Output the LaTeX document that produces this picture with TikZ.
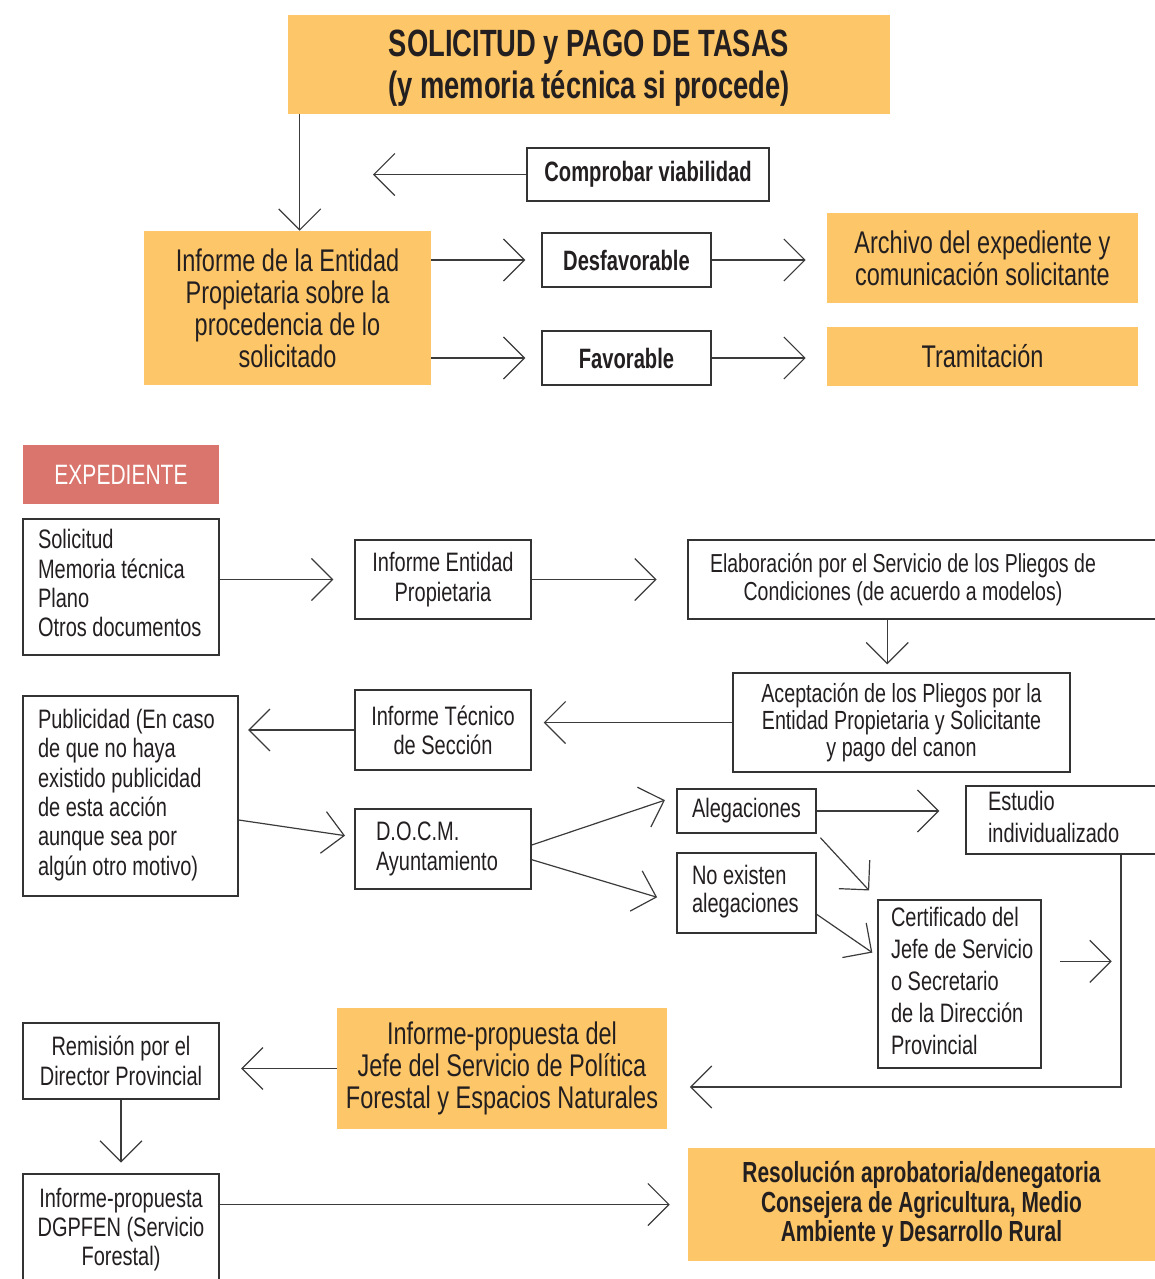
\documentclass[tikz,border=0pt]{standalone}
\usepackage{fontspec}
\setmainfont{Liberation Sans}[FakeStretch=0.75,BoldFeatures={FakeStretch=0.72}]
\usetikzlibrary{arrows.meta}
\hyphenpenalty=10000
\exhyphenpenalty=10000
\newcommand{\leftlines}[2]{\makebox[#1][l]{\begin{tabular}{@{}l@{}}#2\end{tabular}}}

\begin{document}
\begin{tikzpicture}[x=0.75pt,y=0.75pt,yscale=-1,xscale=1,
	box/.style={draw={rgb, 255:red, 51; green, 51; blue, 51 }, line width=1.1pt, inner sep=0pt, align=center, text={rgb, 255:red, 35; green, 31; blue, 32 }, font=\fontsize{20}{22}\selectfont},
	gold/.style={fill={rgb, 255:red, 253; green, 198; blue, 104 }, inner sep=0pt, align=center, text={rgb, 255:red, 35; green, 31; blue, 32 }, font=\fontsize{23.5}{24}\selectfont},
	txt/.style={inner sep=0pt, align=center, text={rgb, 255:red, 35; green, 31; blue, 32 }, font=\fontsize{19.5}{21}\selectfont},
	arr/.style={draw={rgb, 255:red, 59; green, 59; blue, 59 }, line width=0.9pt, -{Straight Barb[length=15.75pt,width=31.5pt]}}]
	\useasboundingbox (0,0) rectangle (1155,1279);
	
	%Shape: Rectangle
	\node[gold, minimum width=451.5pt, minimum height=74.25pt, text depth=0pt, font=\bfseries\fontsize{28.5}{31.5}\selectfont] (sol) at (589,64.5) {SOLICITUD y PAGO DE TASAS\\(y memoria técnica si procede)};
	\node[box, minimum width=181.5pt, minimum height=39.75pt, font=\bfseries\fontsize{21}{24}\selectfont] (comp) at (648,174.5) {Comprobar viabilidad};
	\node[gold, minimum width=215.25pt, minimum height=115.5pt] (infent) at (287.5,308) {Informe de la Entidad\\Propietaria sobre la\\procedencia de lo\\solicitado};
	\node[box, minimum width=126.75pt, minimum height=40.5pt, font=\bfseries\fontsize{21}{24}\selectfont] (desf) at (626.5,260) {Desfavorable};
	\node[box, minimum width=126.75pt, minimum height=40.5pt, font=\bfseries\fontsize{21}{24}\selectfont] (fav) at (626.5,358) {Favorable};
	\node[gold, minimum width=233.25pt, minimum height=67.5pt] (arch) at (982.5,258) {Archivo del expediente y\\comunicación solicitante};
	\node[gold, minimum width=233.25pt, minimum height=44.25pt] (tram) at (982.5,356.5) {Tramitación};
	
	%Shape: Rectangle
	\node[gold, fill={rgb, 255:red, 217; green, 117; blue, 108 }, text=white, minimum width=147pt, minimum height=44.25pt, font=\fontsize{21}{24}\selectfont] (exped) at (121,474.5) {EXPEDIENTE};
	\node[box, minimum width=147pt, minimum height=102pt, inner xsep=11.25pt] (docs) at (121,587) {\leftlines{124.5pt}{Solicitud\\Memoria técnica\\Plano\\Otros documentos}};
	\node[box, minimum width=132pt, minimum height=59.25pt] (infprop) at (443,579.5) {Informe Entidad\\Propietaria};
	\node[box, minimum width=354pt, minimum height=59.25pt] (elab) at (924,579.5) {};
	\node[txt] (elabtxt) at (903,579.5) {Elaboración por el Servicio de los Pliegos de\\Condiciones (de acuerdo a modelos)};
	\node[box, minimum width=252.75pt, minimum height=74.25pt, font=\fontsize{19.7}{20.25}\selectfont] (acept) at (901.5,722.5) {Aceptación de los Pliegos por la\\Entidad Propietaria y Solicitante\\y pago del canon};
	\node[box, minimum width=132pt, minimum height=60pt] (inftec) at (443,730) {Informe Técnico\\de Sección};
	\node[box, minimum width=161.25pt, minimum height=150pt, inner xsep=11.25pt] (publ) at (130.5,796) {\leftlines{138.75pt}{Publicidad (En caso\\de que no haya\\existido publicidad\\de esta acción\\aunque sea por\\algún otro motivo)}};
	\node[box, minimum width=132pt, minimum height=60pt, inner xsep=15.75pt, font=\fontsize{20}{22.5}\selectfont] (docm) at (443,849) {\leftlines{100.5pt}{D.O.C.M.\\Ayuntamiento}};
	\node[box, minimum width=104.25pt, minimum height=33pt] (aleg) at (746.5,811) {Alegaciones};
	\node[box, minimum width=104.25pt, minimum height=60pt, inner xsep=11.25pt, font=\fontsize{20}{20.25}\selectfont] (noex) at (746.5,893) {\leftlines{81.75pt}{No existen\\alegaciones}};
	\node[box, minimum width=145.5pt, minimum height=51pt, inner xsep=16.5pt, font=\fontsize{20}{24}\selectfont] (estudio) at (1063,820) {\leftlines{112.5pt}{Estudio\\individualizado}};
	\node[box, minimum width=122.25pt, minimum height=126pt, inner xsep=9.75pt, font=\fontsize{20}{24}\selectfont] (cert) at (959.5,984) {\leftlines{102.75pt}{Certificado del\\Jefe de Servicio\\o Secretario\\de la Dirección\\Provincial}};
	\node[gold, minimum width=247.5pt, minimum height=90.75pt] (infjefe) at (502,1068.5) {Informe-propuesta del\\Jefe del Servicio de Política\\Forestal y Espacios Naturales};
	\node[box, minimum width=147pt, minimum height=57pt, font=\fontsize{20}{22.5}\selectfont] (remis) at (121,1061) {Remisión por el\\Director Provincial};
	\node[box, minimum width=147pt, minimum height=83.25pt] (dgp) at (121,1229.5) {Informe-propuesta\\DGPFEN (Servicio\\Forestal)};
	\node[gold, minimum width=350.25pt, minimum height=84.75pt, font=\bfseries\fontsize{21.8}{22}\selectfont] (resol) at (921.5,1204.5) {Resolución aprobatoria/denegatoria\\Consejera de Agricultura, Medio\\Ambiente y Desarrollo Rural};
	
	\coordinate (back) at (373,174.5);
	\coordinate (turn) at (1121,1087);
	\coordinate (certout) at ([yshift=-17pt]cert.east);
	
	%Straight Lines
	\draw[arr] ([xshift=9pt]sol.south west) -- ([xshift=117pt]infent.north west);
	\draw[arr] (comp.west) -- (back);
	\draw[arr, shorten >=12pt] (infent.east |- desf.west) -- (desf.west);
	\draw[arr, shorten >=12pt] (infent.east |- fav.west) -- (fav.west);
	\draw[arr, shorten >=15.75pt] (desf.east) -- (arch.west |- desf.east);
	\draw[arr, shorten >=15.75pt] (fav.east) -- (tram.west |- fav.east);
	%Straight Lines
	\draw[arr, shorten >=15.75pt] (docs.east |- infprop.west) -- (infprop.west);
	\draw[arr, shorten >=23pt] (infprop.east) -- (elab.west |- infprop.east);
	\draw[arr, shorten >=6pt] ([xshift=150pt]elab.south west) -- ([xshift=116.25pt]acept.north west);
	\draw[arr, shorten >=9pt] (acept.west) -- (inftec.east |- acept.west);
	\draw[arr, shorten >=7pt] (inftec.west) -- (publ.east |- inftec.west);
	\draw[arr, shorten >=7pt] ([yshift=18pt]publ.east) -- ([yshift=-9pt]docm.west);
	\draw[arr, shorten >=9pt] ([yshift=-3pt]docm.east) -- ([yshift=-11pt]aleg.west);
	\draw[arr, shorten >=15pt] ([yshift=8pt]docm.east) -- ([yshift=7.5pt]noex.west);
	\draw[arr, shorten >=19.5pt] (aleg.east) -- (estudio.west |- aleg.east);
	\draw[arr, shorten <=4pt, shorten >=9pt] (aleg.south east) -- (cert.north west);
	\draw[arr, shorten >=4.5pt] ([yshift=16pt]noex.east) -- ([yshift=-21pt]cert.west);
	\draw[arr, shorten <=14pt, shorten >=7pt] (certout) -- (certout -| turn);
	\draw[arr, shorten >=17pt] (turn |- estudio.south) -- (turn) -- (infjefe.east |- turn);
	%Straight Lines
	\draw[arr, shorten >=16pt] (infjefe.west) -- (remis.east |- infjefe.west);
	\draw[arr, shorten >=8pt] (remis.south) -- (dgp.north);
	\draw[arr, shorten >=13.5pt] (dgp.east |- resol.west) -- (resol.west);
	
\end{tikzpicture}
\end{document}
